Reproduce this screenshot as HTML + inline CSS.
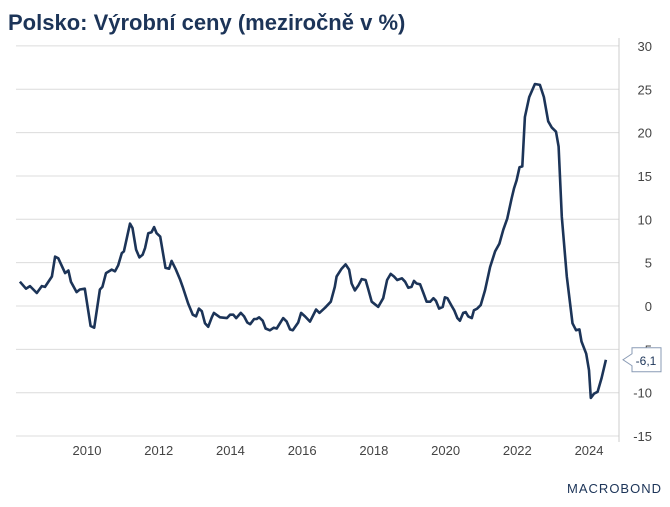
<!DOCTYPE html>
<html><head><meta charset="utf-8"><style>
body{margin:0;background:#fff;width:670px;height:502px;overflow:hidden;font-family:"Liberation Sans",sans-serif}
</style></head><body>
<svg width="670" height="502" xmlns="http://www.w3.org/2000/svg">
<text x="8" y="30" font-size="22" font-weight="bold" fill="#1c3458">Polsko: Výrobní ceny (meziročně v %)</text>
<g id="grid"></g><g id="xt"></g><g id="yt"></g>
<line x1="619" y1="38" x2="619" y2="442" stroke="#ccc"/>
<path id="line" fill="none" stroke="#1c3458" stroke-width="2.6" stroke-linejoin="round"/>
<g id="lbl"></g>
<text x="662" y="493" font-size="13" fill="#1c3458" text-anchor="end" letter-spacing="1">MACROBOND</text>
</svg>
<script>
const dates=[2008.13,2008.30,2008.41,2008.60,2008.74,2008.83,2009.02,2009.11,2009.20,2009.39,2009.48,2009.55,2009.71,2009.80,2009.94,2010.10,2010.20,2010.36,2010.43,2010.53,2010.69,2010.78,2010.87,2010.97,2011.03,2011.20,2011.27,2011.37,2011.46,2011.55,2011.62,2011.71,2011.80,2011.87,2011.94,2012.04,2012.19,2012.29,2012.36,2012.48,2012.59,2012.67,2012.82,2012.95,2013.04,2013.12,2013.20,2013.29,2013.38,2013.48,2013.54,2013.71,2013.90,2013.99,2014.08,2014.16,2014.29,2014.38,2014.47,2014.55,2014.66,2014.73,2014.80,2014.90,2014.98,2015.10,2015.21,2015.29,2015.47,2015.57,2015.66,2015.74,2015.89,2015.97,2016.08,2016.22,2016.39,2016.48,2016.64,2016.80,2016.91,2016.96,2017.10,2017.21,2017.31,2017.38,2017.47,2017.57,2017.66,2017.77,2017.84,2017.94,2018.03,2018.12,2018.26,2018.37,2018.47,2018.56,2018.65,2018.78,2018.87,2018.96,2019.05,2019.12,2019.19,2019.29,2019.38,2019.47,2019.57,2019.66,2019.73,2019.82,2019.92,2019.98,2020.05,2020.17,2020.24,2020.33,2020.40,2020.49,2020.56,2020.63,2020.73,2020.79,2020.88,2020.98,2021.10,2021.24,2021.38,2021.50,2021.61,2021.72,2021.84,2021.91,2021.98,2022.06,2022.14,2022.21,2022.33,2022.49,2022.63,2022.74,2022.86,2022.96,2023.08,2023.15,2023.24,2023.38,2023.54,2023.64,2023.73,2023.79,2023.92,2024.00,2024.05,2024.14,2024.24,2024.35,2024.47];
const values=[2.8,2.0,2.3,1.5,2.3,2.2,3.4,5.7,5.5,3.8,4.1,2.8,1.6,1.9,2.0,-2.3,-2.5,1.9,2.2,3.8,4.2,4.0,4.7,6.1,6.3,9.5,9.0,6.5,5.6,5.9,6.7,8.4,8.5,9.1,8.4,8.0,4.4,4.3,5.2,4.2,3.1,2.2,0.3,-1.0,-1.2,-0.3,-0.6,-2.0,-2.4,-1.3,-0.8,-1.3,-1.4,-1.0,-1.0,-1.4,-0.8,-1.2,-1.9,-2.1,-1.5,-1.5,-1.3,-1.7,-2.6,-2.8,-2.5,-2.6,-1.4,-1.8,-2.7,-2.8,-1.9,-0.8,-1.2,-1.8,-0.4,-0.8,-0.2,0.5,2.2,3.4,4.3,4.8,4.2,2.6,1.8,2.4,3.1,3.0,2.0,0.5,0.2,-0.1,0.9,3.0,3.7,3.4,3.0,3.2,2.8,2.1,2.2,2.9,2.6,2.5,1.5,0.5,0.5,0.9,0.6,-0.3,-0.1,1.0,0.9,0.0,-0.5,-1.4,-1.7,-0.8,-0.7,-1.2,-1.4,-0.5,-0.3,0.1,1.8,4.5,6.3,7.2,8.8,10.1,12.4,13.6,14.5,16.0,16.1,21.8,24.1,25.6,25.5,24.1,21.3,20.6,20.1,18.4,10.3,3.4,-2.0,-2.8,-2.7,-4.1,-5.5,-7.4,-10.6,-10.1,-9.9,-8.3,-6.2];
const yTicks=[30,25,20,15,10,5,0,-5,-10,-15];
const xTicks=[2010,2012,2014,2016,2018,2020,2022,2024];
const lastLabel="-6,1";
const X=d=>87+(d-2010)*35.86, Y=v=>306-v*8.67;
const NS="http://www.w3.org/2000/svg";
function mk(t,a,p){const e=document.createElementNS(NS,t);for(const k in a)e.setAttribute(k,a[k]);p.appendChild(e);return e;}
const g=document.getElementById('grid'),yt=document.getElementById('yt'),xt=document.getElementById('xt');
yTicks.forEach(v=>{
 const l=mk('line',{x1:16,x2:619,y1:Y(v),y2:Y(v),stroke:'#dcdcdc'},g);
 
 
 const t=mk('text',{x:652,y:Y(v)+5,'font-size':13,fill:'#444','text-anchor':'end'},yt);
 t.textContent=v;
 
 
});
xTicks.forEach(d=>{
 const t=mk('text',{x:X(d),y:455,'font-size':13,fill:'#444','text-anchor':'middle'},xt);
 t.textContent=d;
 
 
});
const n=Math.min(dates.length,values.length);
document.getElementById('line').setAttribute('d',dates.slice(0,n).map((d,i)=>(i?'L':'M')+X(d).toFixed(1)+','+Y(values[i]).toFixed(1)).join(''));
const lb=document.getElementById('lbl'),ly=Y(values[n-1]);
mk('path',{d:`M623,${ly} L632,${ly-6} L632,${ly-12} L661,${ly-12} L661,${ly+12} L632,${ly+12} L632,${ly+6} Z`,fill:'#fff',stroke:'#8a9bb5'},lb);
const lt=mk('text',{x:646,y:ly+5,'font-size':12,fill:'#1c3458','text-anchor':'middle'},lb);
lt.textContent=lastLabel;
</script>
</body></html>
